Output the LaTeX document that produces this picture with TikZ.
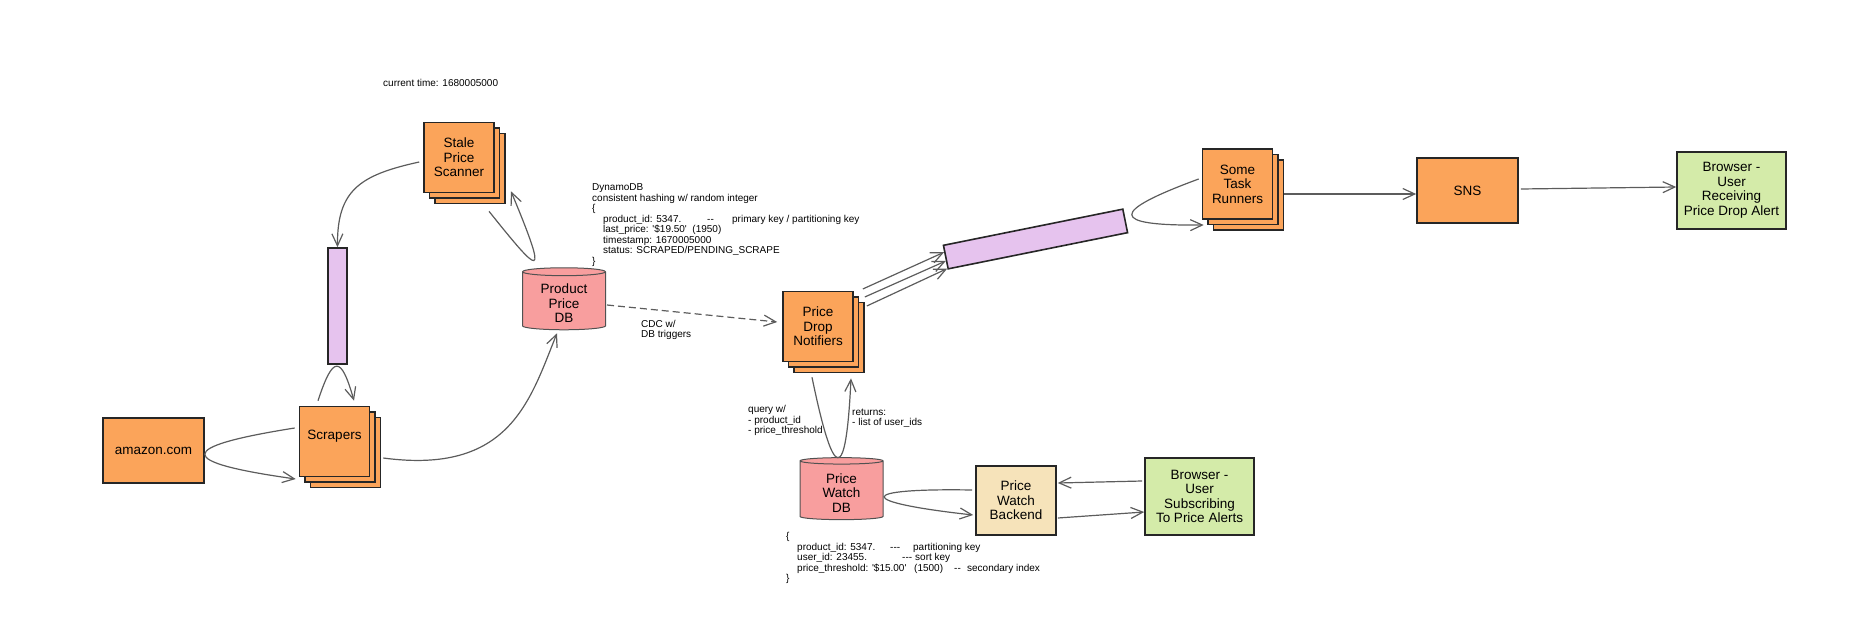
\documentclass[tikz,border=0pt]{standalone}
\usepackage{fontspec}
\setmainfont{Liberation Sans}[Ligatures=TeXOff]
\usetikzlibrary{shapes.geometric,arrows.meta,calc}
\definecolor{orangef}{HTML}{FBA45A}
\definecolor{pinkf}{HTML}{F89E9E}
\definecolor{purplef}{HTML}{E6C3EE}
\definecolor{greenf}{HTML}{D4EBA9}
\definecolor{tanf}{HTML}{F6E3BA}
\definecolor{bord}{HTML}{262626}
\definecolor{linec}{HTML}{5C5C5C}
\newcommand\lblfont{\fontsize{13.5}{14.5}\selectfont}
\newcommand\smfont{\fontsize{10}{10.5}\selectfont}
\newcommand\lowtext[1]{\raisebox{-8pt}[0pt][0pt]{\begin{tabular}{@{}c@{}}#1\end{tabular}}}
\tikzset{
  boxbase/.style={draw=bord,line width=1.6pt,inner sep=0pt,align=center,font=\lblfont},
  stackbox/.style={boxbase,fill=orangef,minimum width=70pt,minimum height=70pt},
  plainbox/.style={boxbase,fill=orangef},
  greenbox/.style={boxbase,fill=greenf,minimum width=109pt,minimum height=77pt},
  queue/.style={draw=bord,line width=1.6pt,fill=purplef,inner sep=0pt},
  dbcyl/.style={cylinder,shape border rotate=90,aspect=0.17,draw=bord!80,line width=1pt,fill=pinkf,
     minimum width=83pt,minimum height=62pt,inner sep=0pt,font=\lblfont},
  note/.style={font=\smfont,align=left,inner sep=0pt,anchor=base west},
  conn/.style={draw=linec,line width=1.2pt,-{Straight Barb[length=12pt,width=11pt]}},
}
\newcommand\stacknode[4]{%
  \node[stackbox] (#1b2) at (#2+11,#3+11) {};
  \node[stackbox] (#1b1) at (#2+5.5,#3+5.5) {};
  \node[stackbox] (#1) at (#2,#3) {#4};}
\begin{document}
\begin{tikzpicture}[x=1pt,y=-1pt]
\useasboundingbox (0,0) rectangle (1850,623);

% texts (base anchor = baseline of the last line)
\node[note] (ctime) at (383,86.7) {current time: 1680005000};
\node[note] (dyn) at (592,264) {DynamoDB\\consistent hashing w/ random integer\\\{\\
\hspace*{11pt}\makebox[104pt][l]{product\_id: 5347.}\makebox[25pt][l]{--}primary key / partitioning key\\
\hspace*{11pt}last\_price: '\$19.50'\ \ (1950)\\
\hspace*{11pt}timestamp: 1670005000\\
\hspace*{11pt}status: SCRAPED/PENDING\_SCRAPE\\\}};
\node[note] (cdc) at (641,337.8) {CDC w/\\DB triggers};
\node[note] (qry) at (748,433.5) {query w/\\- product\_id\\- price\_threshold};
\node[note] (ret) at (852,425.5) {returns:\\- list of user\_ids};
\node[note] (pwjson) at (786,581.5) {\{\\
\hspace*{11pt}\makebox[93pt][l]{product\_id: 5347.}\makebox[23pt][l]{---}partitioning key\\
\hspace*{11pt}\makebox[105pt][l]{user\_id: 23455.}\makebox[13pt][l]{---}sort key\\
\hspace*{11pt}\makebox[117pt][l]{price\_threshold: '\$15.00'}\makebox[40pt][l]{(1500)}\makebox[13pt][l]{--}secondary index\\\}};

% nodes
\node[plainbox,minimum width=101pt,minimum height=65pt] (amz) at (153.5,450.5) {amazon.com};
\stacknode{ssc}{459}{157.5}{Stale\\Price\\Scanner}
\stacknode{scr}{334.5}{441.5}{\raisebox{2.5pt}[0pt][0pt]{Scrapers}}
\node[queue,minimum width=19pt,minimum height=116pt] (q1) at (337.5,306) {};
\node[dbcyl] (pdb) at (564,301) {\lowtext{Product\\Price\\DB}};
\stacknode{pdn}{818}{326.5}{Price\\Drop\\Notifiers}
\node[queue,minimum width=183pt,minimum height=24pt,rotate=11.4] (q2) at (1035.5,239) {};
\stacknode{tr}{1237.5}{184}{Some\\Task\\Runners}
\node[plainbox,minimum width=101pt,minimum height=65pt] (sns) at (1467.5,190.5) {SNS};
\node[greenbox] (bra) at (1731.5,190.5) {Browser -\\User\\Receiving\\Price Drop Alert};
\node[dbcyl] (pwdb) at (841.5,490.5) {\lowtext{Price\\Watch\\DB}};
\node[boxbase,fill=tanf,minimum width=80pt,minimum height=69pt] (pwb) at (1016,500.5) {Price\\Watch\\Backend};
\node[greenbox] (brs) at (1199.5,496.5) {Browser -\\User\\Subscribing\\To Price Alerts};

% connectors
\draw[conn] ([shift={(-4,-13.5)}]scr.west) .. controls (175,447) and (175,462) .. ([shift={(-3,37.5)}]scr.west);
\draw[conn] ([shift={(13,16.5)}]scr.east) .. controls (510,475) and (530,400) .. ([shift={(-7,3)}]pdb.south);
\draw[conn] ([shift={(-16.5,-5)}]scr.north) .. controls (333,355) and (341,355) .. ([shift={(19.5,-5)}]scr.north);
\draw[conn] ([shift={(-4,4.5)}]ssc.west) .. controls (360,175) and (337,190) .. (q1.north);
\draw[conn] ([shift={(30,18)}]ssc.south) .. controls (540,275) and (550,285) .. ([shift={(52,-2)}]ssc.south);
\draw[conn,dash pattern=on 7pt off 4pt] ([shift={(1,4)}]pdb.east) -- ([shift={(-5,-4.5)}]pdn.west);
\draw[conn] ([shift={(9,-37.5)}]pdn.east) -- ($(q2.north west)!0.3!(q2.south west)$);
\draw[conn] ([shift={(11,-29.5)}]pdn.east) -- ($(q2.north west)!0.65!(q2.south west)$);
\draw[conn] ([shift={(13,-20.5)}]pdn.east) -- ($(q2.north west)!0.95!(q2.south west)$);
\draw[conn] ([shift={(-3,-5)}]tr.west) .. controls (1109,212) and (1109,226) .. ([shift={(2,41)}]tr.west);
\draw[conn] ([shift={(11,10)}]tr.east) -- ([shift={(0,3.5)}]sns.west);
\draw[conn] ([shift={(2,-1.5)}]sns.east) -- ([shift={(0,-3.5)}]bra.west);
\draw[conn] ([shift={(-6,15)}]pdn.south) .. controls (834,484) and (846,484) .. ([shift={(33,16)}]pdn.south);
\draw[conn] ([shift={(-3,-10.5)}]pwb.west) .. controls (855,488) and (855,502) .. ([shift={(-2,14.5)}]pwb.west);
\draw[conn] ([shift={(-2,-15.5)}]brs.west) -- ([shift={(1,-17.5)}]pwb.east);
\draw[conn] ([shift={(1,17.5)}]pwb.east) -- ([shift={(0,15.5)}]brs.west);
\end{tikzpicture}
\end{document}
